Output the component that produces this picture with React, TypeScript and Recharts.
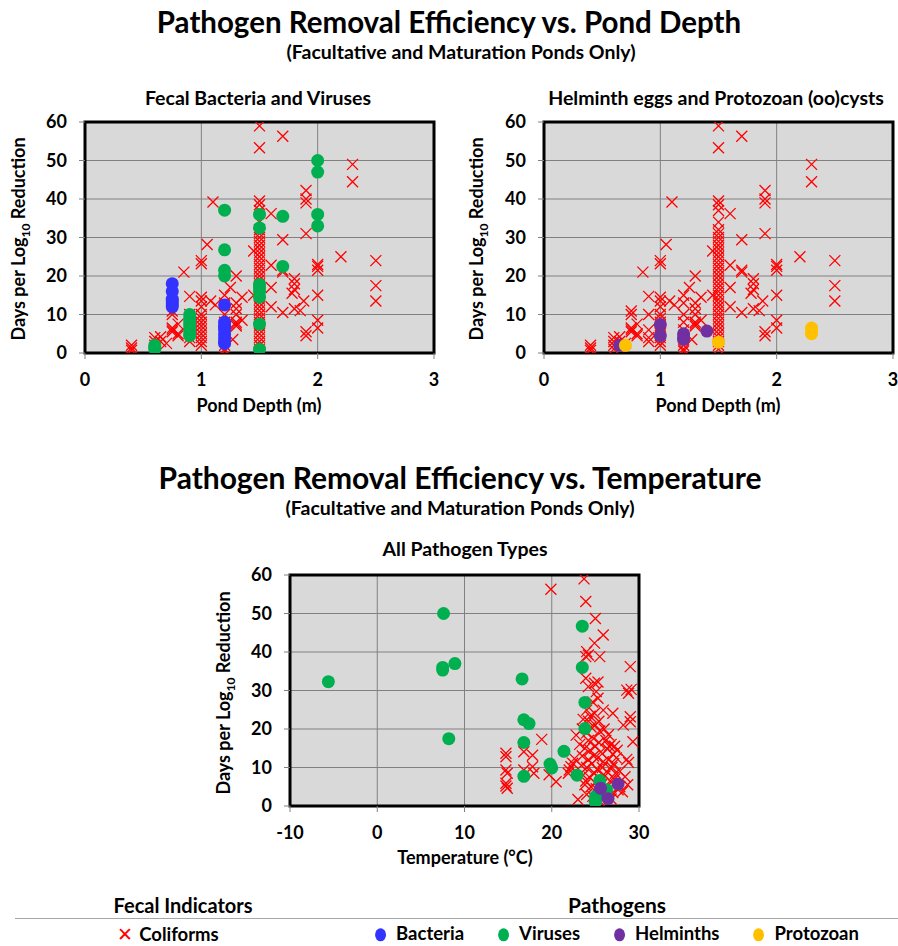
import React from "react";
import {
  ScatterChart,
  Scatter,
  XAxis,
  YAxis,
  CartesianGrid,
  ReferenceArea,
} from "recharts";

// page is photographed at 898x946
const W = 898;
const H = 946;
const FONT = `Lato, "Open Sans", sans-serif`;

const RED = "#ff0000";
const BLUE = "#3333ff";
const GREEN = "#00b050";
const PURPLE = "#7030a0";
const YELLOW = "#ffc000";

// [depth (m), days per log10 reduction]
const coliformDepth: [number, number][] = [
  [0.4, 2], [0.4, 1.3], [0.4, 0.7],
  [0.6, 4], [0.6, 3], [0.6, 2], [0.6, 1],
  [0.65, 4.2], [0.65, 3], [0.7, 2.5],
  [0.75, 10.9], [0.75, 10], [0.75, 6.5], [0.75, 6], [0.75, 5.5],
  [0.8, 7.5], [0.8, 5], [0.8, 4.5],
  [0.85, 21],
  [0.9, 14.7], [0.9, 10], [0.9, 6], [0.9, 4], [0.9, 3],
  [1.0, 24], [1.0, 23.2], [1.0, 14.5], [1.0, 13.5], [1.0, 12], [1.0, 10], [1.0, 9],
  [1.0, 8], [1.0, 7], [1.0, 6], [1.0, 5], [1.0, 4], [1.0, 3], [1.0, 2],
  [1.05, 28.2],
  [1.1, 39.2], [1.08, 13.5], [1.12, 12.5],
  [1.2, 15], [1.2, 13], [1.2, 10], [1.2, 8], [1.2, 6], [1.2, 4], [1.2, 2], [1.2, 1], [1.2, 0.5],
  [1.25, 17], [1.27, 3.5],
  [1.3, 20], [1.3, 13], [1.3, 11.5], [1.3, 10], [1.3, 8], [1.3, 7.5], [1.3, 7],
  [1.35, 14.5], [1.35, 8.5],
  [1.45, 26.5], [1.45, 15],
  [1.5, 59], [1.5, 53.3], [1.5, 39.5], [1.5, 38.5], [1.5, 37], [1.5, 34], [1.5, 32],
  [1.5, 31], [1.5, 30], [1.5, 29], [1.5, 28], [1.5, 27], [1.5, 26], [1.5, 25], [1.5, 24],
  [1.5, 23], [1.5, 22], [1.5, 21], [1.5, 20], [1.5, 19], [1.5, 18], [1.5, 17], [1.5, 16],
  [1.5, 15], [1.5, 14], [1.5, 13], [1.5, 12], [1.5, 11], [1.5, 10], [1.5, 9], [1.5, 8],
  [1.5, 7], [1.5, 6], [1.5, 5], [1.5, 4], [1.5, 3], [1.5, 2], [1.5, 1],
  [1.6, 36.2], [1.6, 22.8], [1.6, 17], [1.6, 12],
  [1.7, 56.3], [1.7, 29.4], [1.7, 21.5], [1.7, 21], [1.7, 10.5],
  [1.8, 19.3], [1.8, 18], [1.8, 16.5], [1.78, 15.5], [1.8, 11.5], [1.85, 11],
  [1.9, 42.2], [1.9, 40], [1.9, 39], [1.9, 31], [1.88, 13.5], [1.9, 5.5], [1.9, 4.5],
  [2.0, 23], [2.0, 22.5], [2.0, 21.5], [2.0, 15], [2.0, 8.5], [2.0, 6.5],
  [2.2, 25], [2.3, 49], [2.3, 44.5], [2.5, 24], [2.5, 17.5], [2.5, 13.5],
];

const bacteriaDepth: [number, number][] = [
  [0.75, 18], [0.75, 16], [0.75, 14], [0.75, 13.5], [0.75, 13], [0.75, 12.5], [0.75, 12],
  [1.2, 12.5], [1.2, 8], [1.2, 7], [1.2, 6.5], [1.2, 6], [1.2, 5], [1.2, 4], [1.2, 3], [1.2, 2.5],
];

const virusesDepth: [number, number][] = [
  [0.6, 2], [0.6, 1.5], [0.6, 1],
  [0.9, 10], [0.9, 9], [0.9, 8], [0.9, 7], [0.9, 6], [0.9, 5], [0.9, 4.5],
  [1.2, 37.1], [1.2, 26.8], [1.2, 21.5], [1.2, 20],
  [1.5, 36], [1.5, 32.5], [1.5, 17.8], [1.5, 17], [1.5, 16], [1.5, 14.5], [1.5, 7.5], [1.5, 1],
  [1.7, 35.5], [1.7, 22.5],
  [2.0, 50], [2.0, 47], [2.0, 36], [2.0, 33],
];

const helminthsDepth: [number, number][] = [
  [0.65, 2], [1.0, 7.4], [1.0, 4.5], [1.2, 5], [1.2, 4], [1.2, 3.5], [1.4, 5.7],
];

const protozoaDepth: [number, number][] = [
  [0.7, 2], [1.5, 2.8], [2.3, 6.5], [2.3, 5.5], [2.3, 5],
];

// [temperature (°C), days per log10 reduction]
const coliformTemp: [number, number][] = [
  [19.9, 56.3], [23.7, 59], [23.9, 53.1], [25.0, 48.7], [25.9, 44.4], [24.9, 42.3],
  [24.0, 40.1], [23.9, 38.8], [24.2, 39.2], [25.5, 38.8], [29.0, 36.2], [23.9, 33.2],
  [24.9, 31.9], [24.2, 31], [25.1, 29.7], [25.3, 32.2], [28.6, 30.1], [28.8, 29.3],
  [29.1, 30.3], [25.3, 28], [24.7, 27], [24.0, 24.9], [24.9, 24.1], [25.9, 24.9],
  [27.0, 24.1], [23.6, 22.5], [24.4, 23.3], [25.4, 22], [29.0, 23.2], [29.0, 21.9],
  [28.2, 21], [29.3, 16.7], [18.85, 17.3], [22.8, 18.4],
  [14.75, 13.7], [14.75, 12.8], [14.75, 9.35], [14.9, 8.5], [14.75, 5.9], [14.9, 4.6], [14.75, 5.2],
  [16.8, 14.1], [17.8, 13.2], [16.8, 9.35], [17.95, 8.5], [17.8, 10.2], [19.7, 8.1], [20.5, 6.3],
  [22.0, 9.35], [22.2, 10.2], [22.4, 11.1], [22.6, 12.3], [23.0, 1.7],
  [28.6, 12.1], [28.8, 11.3], [28.4, 7.6], [27.8, 5], [28.1, 3.7], [27.6, 4.2], [28.7, 5.5],
  [23.5, 20], [24.0, 19], [24.5, 20.5], [25.0, 21], [25.5, 19.5], [26.0, 20],
  [24.2, 17], [24.8, 17.5], [25.4, 16.5], [26.2, 17], [26.8, 16], [27.2, 15.5],
  [23.8, 15], [24.4, 14.5], [25.0, 15.5], [25.6, 14], [26.4, 14.8], [27.0, 13.5], [27.4, 12.5],
  [23.5, 13], [24.2, 12], [24.8, 13], [25.3, 12.5], [25.9, 11.5], [26.5, 12], [27.1, 11],
  [23.4, 10.5], [24.0, 10], [24.6, 11], [25.2, 9.5], [25.8, 10], [26.3, 9], [26.9, 10], [27.3, 8.5],
  [23.6, 8], [24.3, 7.5], [24.9, 8.5], [25.5, 7], [26.1, 7.8], [26.7, 6.5], [27.2, 7],
  [23.8, 5.5], [24.5, 5], [25.1, 4.5], [25.7, 5.5], [26.4, 4], [27.0, 3.5],
  [24.0, 3], [24.7, 2.5], [25.4, 1.5], [26.0, 2], [26.8, 1.8],
  [24.2, 22], [26.5, 18.5], [27.5, 14.5], [23.2, 16], [23.9, 6.5], [25.0, 6], [26.6, 15.5],
  [27.8, 9], [21.9, 8.5],
];

const bacteriaTemp: [number, number][] = [[25.2, 2.8]];

const virusesTemp: [number, number][] = [
  [-5.6, 32.3], [7.6, 50], [7.5, 36], [7.5, 35.3], [8.9, 37], [8.2, 17.5],
  [16.6, 33], [16.8, 22.4], [17.4, 21.4], [16.8, 16.5], [16.8, 7.7], [19.8, 10.9],
  [20.0, 9.9], [21.4, 14.2], [22.9, 8], [23.5, 46.7], [23.5, 36], [23.8, 26.9],
  [23.8, 20.1], [25.5, 6.6], [26.3, 4.2], [25.0, 2.4], [25.0, 1.6], [25.0, 1.0],
];

const helminthsTemp: [number, number][] = [[25.6, 4.6], [27.6, 5.7], [26.45, 1.9]];

const depthTicks = [0, 1, 2, 3];
const tempTicks = [-10, 0, 10, 20, 30];
const dayTicks = [0, 10, 20, 30, 40, 50, 60];

const toPts = (arr: [number, number][]) => arr.map(([x, y]) => ({ x, y }));

function Cross(props: any) {
  const { cx, cy } = props;
  if (cx == null || cy == null) return null;
  const s = 5.5;
  return (
    <path
      d={`M${cx - s},${cy - s}L${cx + s},${cy + s}M${cx + s},${cy - s}L${cx - s},${cy + s}`}
      stroke={RED}
      strokeWidth={1.3}
      fill="none"
    />
  );
}

const dot = (color: string) => (props: any) => {
  const { cx, cy } = props;
  if (cx == null || cy == null) return null;
  return <circle cx={cx} cy={cy} r={6.5} fill={color} />;
};

type Series = { data: [number, number][]; kind: "x" | string };

function Panel({
  left,
  right,
  top,
  bottom,
  xDomain,
  xTicks,
  series,
}: {
  left: number;
  right: number;
  top: number;
  bottom: number;
  xDomain: [number, number];
  xTicks: number[];
  series: Series[];
}) {
  const yAxisW = 50;
  const xAxisH = 40;
  const tick = { fill: "#000", fontSize: 18, fontWeight: 700, fontFamily: FONT };
  return (
    <div style={{ position: "absolute", left: 0, top: 0, width: W, height: H }}>
      <ScatterChart
        width={W}
        height={H}
        margin={{
          top,
          left: left - yAxisW,
          right: W - right,
          bottom: H - bottom - xAxisH,
        }}
      >
        <CartesianGrid stroke="#808080" fill="#d9d9d9" fillOpacity={1} />
        <XAxis
          type="number"
          dataKey="x"
          domain={xDomain}
          ticks={xTicks}
          height={xAxisH}
          axisLine={false}
          tickLine={{ stroke: "#808080" }}
          tickSize={6}
          tickMargin={14}
          tick={tick}
          allowDataOverflow
        />
        <YAxis
          type="number"
          dataKey="y"
          domain={[0, 60]}
          ticks={dayTicks}
          width={yAxisW}
          axisLine={false}
          tickLine={{ stroke: "#808080" }}
          tickSize={6}
          tickMargin={12}
          tick={tick}
          allowDataOverflow
        />
        <ReferenceArea
          x1={xDomain[0]}
          x2={xDomain[1]}
          y1={0}
          y2={60}
          fill="none"
          fillOpacity={0}
          stroke="#000"
          strokeWidth={3}
        />
        {series.map((s, i) => (
          <Scatter
            key={i}
            data={toPts(s.data)}
            shape={s.kind === "x" ? Cross : dot(s.kind)}
            isAnimationActive={false}
          />
        ))}
      </ScatterChart>
    </div>
  );
}

function YTitle({ x, y }: { x: number; y: number }) {
  return (
    <div
      style={{
        position: "absolute",
        left: x,
        top: y,
        transform: "translate(-50%, -50%) rotate(-90deg)",
        whiteSpace: "nowrap",
        fontFamily: FONT,
        fontWeight: 700,
        fontSize: 18,
      }}
    >
      Days per Log<sub style={{ fontSize: 12 }}>10</sub> Reduction
    </div>
  );
}

function Txt({
  x,
  y,
  size,
  children,
}: {
  x: number;
  y: number;
  size: number;
  children: React.ReactNode;
}) {
  return (
    <div
      style={{
        position: "absolute",
        left: x,
        top: y,
        transform: "translate(-50%, -50%)",
        whiteSpace: "nowrap",
        fontFamily: FONT,
        fontWeight: 700,
        fontSize: size,
        lineHeight: 1.15,
      }}
    >
      {children}
    </div>
  );
}

function LegendDot({ color }: { color: string }) {
  return (
    <span
      style={{
        display: "inline-block",
        width: 11,
        height: 13,
        borderRadius: "50%",
        background: color,
        marginRight: 10,
        verticalAlign: "-1px",
      }}
    />
  );
}

const gap = <span style={{ display: "inline-block", width: 34 }} />;

export default function App() {
  return (
    <div
      style={{
        position: "absolute",
        left: 0,
        top: 0,
        width: W,
        height: H,
        background: "#fff",
        overflow: "hidden",
      }}
    >
      <Panel
        left={85}
        right={434}
        top={122}
        bottom={353}
        xDomain={[0, 3]}
        xTicks={depthTicks}
        series={[
          { data: coliformDepth, kind: "x" },
          { data: bacteriaDepth, kind: BLUE },
          { data: virusesDepth, kind: GREEN },
        ]}
      />
      <Panel
        left={544}
        right={893}
        top={122}
        bottom={353}
        xDomain={[0, 3]}
        xTicks={depthTicks}
        series={[
          { data: coliformDepth, kind: "x" },
          { data: helminthsDepth, kind: PURPLE },
          { data: protozoaDepth, kind: YELLOW },
        ]}
      />
      <Panel
        left={290}
        right={639}
        top={575}
        bottom={806}
        xDomain={[-10, 30]}
        xTicks={tempTicks}
        series={[
          { data: coliformTemp, kind: "x" },
          { data: bacteriaTemp, kind: BLUE },
          { data: virusesTemp, kind: GREEN },
          { data: helminthsTemp, kind: PURPLE },
        ]}
      />

      <Txt x={449} y={22} size={29.5}>Pathogen Removal Efficiency vs. Pond Depth</Txt>
      <Txt x={461} y={52} size={19.5}>(Facultative and Maturation Ponds Only)</Txt>
      <Txt x={258} y={98} size={19.5}>Fecal Bacteria and Viruses</Txt>
      <Txt x={716} y={98} size={19.5}>Helminth eggs and Protozoan (oo)cysts</Txt>
      <YTitle x={20} y={239} />
      <YTitle x={478} y={239} />
      <Txt x={259} y={405} size={18}>Pond Depth (m)</Txt>
      <Txt x={718} y={405} size={18}>Pond Depth (m)</Txt>

      <Txt x={460} y={477} size={30}>Pathogen Removal Efficiency vs. Temperature</Txt>
      <Txt x={460} y={508} size={19.5}>(Facultative and Maturation Ponds Only)</Txt>
      <Txt x={465} y={549} size={19.5}>All Pathogen Types</Txt>
      <YTitle x={225} y={693} />
      <Txt x={465} y={857} size={18}>Temperature (°C)</Txt>

      <Txt x={183} y={905} size={20}>Fecal Indicators</Txt>
      <Txt x={617} y={905} size={21}>Pathogens</Txt>
      <div
        style={{
          position: "absolute",
          left: 15,
          top: 918,
          width: W - 15,
          height: 1,
          background: "#a6a6a6",
        }}
      />
      <Txt x={168} y={934} size={18.5}>
        <span style={{ color: RED, fontWeight: 400, fontSize: 19, marginRight: 6 }}>✕</span>
        Coliforms
      </Txt>
      <Txt x={617} y={934} size={18.5}>
        <LegendDot color={BLUE} />Bacteria
        {gap}
        <LegendDot color={GREEN} />Viruses
        {gap}
        <LegendDot color={PURPLE} />Helminths
        {gap}
        <LegendDot color={YELLOW} />Protozoan
      </Txt>
    </div>
  );
}
